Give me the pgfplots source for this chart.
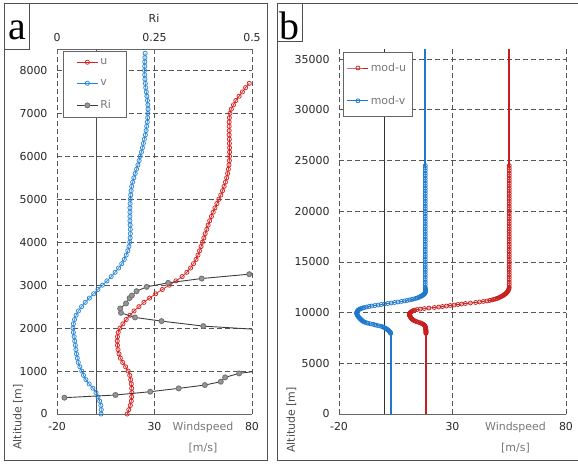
\documentclass[border=0pt]{standalone}
\usepackage{fontspec}
\setmainfont{DejaVu Sans}
\newfontfamily\labelfont{Liberation Serif}
\usepackage{pgfplots}
\pgfplotsset{compat=1.18}
\definecolor{ured}{RGB}{215,35,35}
\definecolor{vblue}{RGB}{45,135,215}
\definecolor{bred}{RGB}{200,30,30}
\definecolor{bblue}{RGB}{30,120,205}
\definecolor{gridc}{RGB}{85,85,85}
\definecolor{framec}{RGB}{80,80,80}
\definecolor{ridark}{RGB}{60,60,60}
\definecolor{rifill}{RGB}{150,150,150}
\definecolor{riedge}{RGB}{115,115,115}
\definecolor{txtc}{RGB}{40,40,40}
\definecolor{graytxt}{RGB}{120,120,120}
\pgfplotsset{
  base/.style={
    scale only axis, anchor=south west,
    ymin=0,
    axis x line*=bottom, axis y line*=left,
    y axis line style={draw=none},
    x axis line style={draw=gray!80!black, line width=0.8bp},
    major tick length=0pt,
    xmajorgrids, ymajorgrids,
    major grid style={gridc, line width=0.7bp, dash pattern=on 5bp off 3bp},
    xtick={-20,30,80}, xticklabels={-20,30,80},
    xmin=-20, xmax=80,
    ticklabel style={font=\fontsize{11}{13}\selectfont, text=txtc},
    /pgf/number format/assume math mode=true,
    /pgf/number format/1000 sep={},
    scaled y ticks=false,
    yticklabel style={/pgf/number format/fixed},
    xticklabel shift=5bp, yticklabel shift=6bp,
    legend cell align=left,
    clip=true,
  },
  omark/.style={mark=o, mark size=2.1bp, line width=0.75bp, mark options={fill=white, solid, line width=0.75bp}},
}
\begin{document}
\begin{tikzpicture}[font=\fontsize{11}{13}\selectfont]
\path[use as bounding box] (0bp,0bp) rectangle (578bp,464bp);
% frames
\draw[framec, line width=0.9bp] (4.5bp,4bp) rectangle (267.5bp,460.5bp);
\draw[framec, line width=0.9bp] (578bp,460.5bp) -- (277bp,460.5bp) -- (277bp,4bp) -- (578bp,4bp);
\draw[framec, line width=0.8bp, fill=white] (4.5bp,415bp) rectangle (29bp,460.5bp);
\draw[framec, line width=0.8bp, fill=white] (277bp,422.3bp) rectangle (302bp,460.5bp);
\node[anchor=base, inner sep=0pt, font=\labelfont\fontsize{40}{40}\selectfont] at (17.3bp,424bp) {a};
\node[anchor=base, inner sep=0pt, font=\labelfont\fontsize{40}{40}\selectfont] at (289.8bp,424bp) {b};

%%%%%%%%%%%%%%%% panel a
\begin{axis}[base, at={(57bp,50bp)}, width=195bp, height=365bp, ymax=8500,
  ytick={0,1000,...,8000},
  legend style={at={(0.031,0.9945)}, anchor=north west, draw=gray!80!black, fill=white,
    line width=0.8bp, font=\fontsize{11}{13}\selectfont\color{graytxt},
    inner xsep=13bp, inner ysep=5bp, row sep=9.5bp},
  legend image code/.code={\draw[mark repeat=2,mark phase=2] plot coordinates {(0bp,0bp)(10.5bp,0bp)(21bp,0bp)};},
]
\addplot[forget plot, draw=gray!60!black, line width=0.8bp] coordinates {(0,0) (0,8500)};
\addplot[ured, omark] coordinates {
(16.0,0) (16.8,100) (17.6,200) (18.1,300) (18.3,400) (18.4,500) (18.3,600) (18.1,700) (17.8,800) (17.3,900)
(16.5,1000) (15.2,1100) (13.7,1200) (12.5,1300) (11.8,1400) (11.3,1500) (11.0,1600) (10.9,1700) (11.0,1800) (11.4,1900)
(12.3,2000) (13.8,2100) (15.5,2200) (17.4,2300) (19.5,2400) (22.0,2500) (24.6,2600) (27.5,2700) (30.6,2800) (34.0,2900)
(37.6,3000) (41.0,3100) (44.2,3200) (46.6,3300) (48.5,3400) (50.0,3500) (51.3,3600) (52.3,3700) (53.1,3800) (53.9,3900)
(54.6,4000) (55.3,4100) (56.0,4200) (56.8,4300) (57.5,4400) (58.3,4500) (59.2,4600) (60.1,4700) (61.0,4800) (62.0,4900)
(63.0,5000) (64.0,5100) (64.9,5200) (65.7,5300) (66.4,5400) (67.0,5500) (67.5,5600) (67.9,5700) (68.2,5800) (68.4,5900)
(68.5,6000) (68.5,6100) (68.5,6200) (68.4,6300) (68.4,6400) (68.3,6500) (68.3,6600) (68.3,6700) (68.3,6800) (68.4,6900)
(68.7,7000) (69.4,7100) (70.5,7200) (71.7,7300) (73.4,7400) (75.1,7500) (76.7,7600) (78.6,7700)
};
\addlegendentry{u}
\addplot[vblue, omark] coordinates {
(2.6,0) (2.7,100) (2.5,200) (1.9,300) (1.0,400) (0.0,500) (-1.6,600) (-3.5,700) (-5.2,800) (-6.4,900)
(-7.3,1000) (-8.3,1100) (-9.1,1200) (-9.6,1300) (-10.0,1400) (-10.3,1500) (-10.6,1600) (-10.9,1700) (-11.2,1800) (-11.6,1900)
(-11.8,2000) (-11.6,2100) (-11.0,2200) (-10.2,2300) (-9.0,2400) (-7.4,2500) (-5.5,2600) (-3.4,2700) (-1.2,2800) (1.0,2900)
(3.3,3000) (5.6,3100) (7.8,3200) (9.8,3300) (11.6,3400) (13.2,3500) (14.5,3600) (15.5,3700) (16.3,3800) (16.9,3900)
(17.3,4000) (17.5,4100) (17.6,4200) (17.6,4300) (17.5,4400) (17.4,4500) (17.4,4600) (17.4,4700) (17.4,4800) (17.5,4900)
(17.6,5000) (17.8,5100) (18.0,5200) (18.3,5300) (18.8,5400) (19.4,5500) (20.1,5600) (20.8,5700) (21.5,5800) (22.1,5900)
(22.7,6000) (23.3,6100) (23.8,6200) (24.3,6300) (24.8,6400) (25.3,6500) (25.7,6600) (26.0,6700) (26.3,6800) (26.5,6900)
(26.6,7000) (26.7,7100) (26.6,7200) (26.4,7300) (26.1,7400) (25.8,7500) (25.5,7600) (25.3,7700) (25.1,7800) (25.0,7900)
(24.9,8000) (25.0,8100) (25.0,8200) (25.1,8300) (25.2,8400)
};
\addlegendentry{v}
\addlegendimage{draw=ridark, line width=0.9bp, mark=*, mark size=2.5bp, mark options={fill=rifill, draw=riedge, solid}}
\addlegendentry{Ri}
\end{axis}

% Ri overlay (top axis)
\begin{axis}[scale only axis, anchor=south west, at={(57bp,50bp)}, width=195bp, height=365bp,
  xmin=0, xmax=0.5, ymin=0, ymax=8500,
  axis x line*=top, axis y line=none, ytick=\empty,
  x axis line style={draw=gray!80!black, line width=0.8bp},
  xtick={0,0.25,0.5}, xticklabels={0,0.25,0.5},
  tick align=inside, major tick length=4bp, tick style={gray!80!black, line width=0.8bp},
  ticklabel style={font=\fontsize{11}{13}\selectfont, text=txtc},
  xticklabel shift=4bp,
  clip=true,
]
\addplot[draw=ridark, line width=0.9bp, mark=*, mark size=2.5bp, mark options={fill=rifill, draw=riedge, solid}] coordinates {
(0.019,380) (0.150,442) (0.239,519) (0.312,597) (0.379,674) (0.420,752) (0.431,853) (0.467,946)
(0.6,1100) (0.6,1920)
(0.375,2047) (0.268,2163) (0.200,2248) (0.164,2356) (0.162,2457) (0.177,2574) (0.186,2700) (0.192,2760)
(0.204,2860) (0.230,2961) (0.285,3054) (0.371,3155) (0.493,3256) (0.6,3330)
};
\end{axis}

\node[text=txtc] at (154bp,446bp) {Ri};
\node[text=graytxt] at (203bp,37bp) {Windspeed};
\node[text=graytxt] at (203bp,16bp) {[m/s]};
\node[text=gray!60!black, rotate=90] at (18bp,47bp) {Altitude [m]};

%%%%%%%%%%%%%%%% panel b
\begin{axis}[base, at={(339bp,50bp)}, width=227bp, height=365bp, ymax=36000,
  ytick={0,5000,...,35000},
  legend style={at={(0.016,0.9926)}, anchor=north west, draw=gray!80!black, fill=white,
    line width=0.8bp, font=\fontsize{11}{13}\selectfont\color{graytxt},
    inner xsep=4bp, inner ysep=9bp, row sep=19bp},
  legend image code/.code={\draw[mark repeat=2,mark phase=2] plot coordinates {(0bp,0bp)(10.5bp,0bp)(21bp,0bp)};},
]
\addplot[forget plot, draw=black!80, line width=0.8bp] coordinates {(0,0) (0,36000)};
\addplot[bred, omark, mark size=2bp] coordinates {
(18.3,7950) (18.3,8000) (18.3,8050) (18.3,8100) (18.3,8150) (18.3,8200) (18.3,8250) (18.3,8300) (18.2,8350) (18.2,8400)
(18.2,8450) (18.1,8500) (18.1,8550) (18.0,8600) (17.9,8650) (17.8,8700) (17.6,8750) (17.4,8800) (17.1,8850) (16.7,8900)
(16.2,8950) (15.7,9000) (15.0,9050) (14.3,9100) (13.7,9150) (13.2,9200) (12.8,9250) (12.5,9300) (12.2,9350) (12.0,9400)
(11.8,9450) (11.7,9500) (11.5,9550) (11.4,9600) (11.3,9650) (11.1,9700) (11.0,9750) (11.0,9800) (11.0,9850) (11.1,9900)
(11.2,9950) (11.4,10000) (11.7,10050) (12.0,10100) (12.3,10150) (12.7,10200) (13.4,10250) (14.4,10300) (15.8,10350) (17.6,10400)
(19.6,10450) (22.0,10500) (23.9,10550) (25.6,10600) (27.3,10650) (29.0,10700) (30.7,10750) (32.4,10800) (34.0,10850) (35.7,10900)
(37.9,10950) (40.2,11000) (41.9,11050) (43.6,11100) (45.2,11150) (46.4,11200) (47.4,11250) (48.2,11300) (48.9,11350) (49.6,11400)
(50.2,11450) (50.7,11500) (51.2,11550) (51.6,11600) (52.0,11650) (52.4,11700) (52.7,11750) (53.0,11800) (53.3,11850) (53.6,11900)
(53.8,11950) (54.0,12000) (54.4,12100) (54.6,12200) (54.8,12300) (54.9,12400) (55.0,12500)
(55.0,12750) (55.0,13000) (55.0,13250) (55.0,13500) (55.0,13750) (55.0,14000) (55.0,14250) (55.0,14500) (55.0,14750) (55.0,15000)
(55.0,15250) (55.0,15500) (55.0,15750) (55.0,16000) (55.0,16250) (55.0,16500) (55.0,16750) (55.0,17000) (55.0,17250) (55.0,17500)
(55.0,17750) (55.0,18000) (55.0,18250) (55.0,18500) (55.0,18750) (55.0,19000) (55.0,19250) (55.0,19500) (55.0,19750) (55.0,20000)
(55.0,20250) (55.0,20500) (55.0,20750) (55.0,21000) (55.0,21250) (55.0,21500) (55.0,21750) (55.0,22000) (55.0,22250) (55.0,22500)
(55.0,22750) (55.0,23000) (55.0,23250) (55.0,23500) (55.0,23750) (55.0,24000) (55.0,24250) (55.0,24500)
};
\addlegendentry{mod-u}
\addplot[bblue, omark, mark size=2bp] coordinates {
(2.8,7950) (2.7,8000) (2.6,8050) (2.4,8100) (2.2,8150) (2.0,8200) (1.8,8250) (1.5,8300) (1.2,8350) (0.9,8400)
(0.5,8450) (0.1,8500) (-0.3,8550) (-0.8,8600) (-1.5,8650) (-2.5,8700) (-3.5,8750) (-4.3,8800) (-5.1,8850) (-6.2,8900)
(-7.2,8950) (-8.0,9000) (-8.6,9050) (-9.1,9100) (-9.5,9150) (-9.8,9200) (-10.0,9250) (-10.2,9300) (-10.5,9350) (-10.7,9400)
(-10.9,9450) (-11.1,9500) (-11.3,9550) (-11.5,9600) (-11.7,9650) (-11.8,9700) (-11.9,9750) (-12.0,9800) (-12.1,9850) (-12.2,9900)
(-12.2,9950) (-12.2,10000) (-12.1,10050) (-12.0,10100) (-11.9,10150) (-11.7,10200) (-11.5,10250) (-11.2,10300) (-10.8,10350) (-10.3,10400)
(-9.7,10450) (-8.9,10500) (-7.9,10550) (-6.8,10600) (-5.6,10650) (-4.2,10700) (-2.8,10750) (-1.4,10800) (0.0,10850) (1.5,10900)
(3.0,10950) (4.5,11000) (6.0,11050) (7.5,11100) (8.8,11150) (10.0,11200) (11.1,11250) (12.1,11300) (13.0,11350) (13.8,11400)
(14.5,11450) (15.1,11500) (15.6,11550) (16.0,11600) (16.4,11650) (16.8,11700) (17.1,11750) (17.4,11800) (17.6,11850) (17.8,11900)
(17.9,11950) (18.0,12000) (18.1,12100) (18.1,12200) (18.1,12300) (18.0,12400) (18.0,12500)
(18.0,12750) (18.0,13000) (18.0,13250) (18.0,13500) (18.0,13750) (18.0,14000) (18.0,14250) (18.0,14500) (18.0,14750) (18.0,15000)
(18.0,15250) (18.0,15500) (18.0,15750) (18.0,16000) (18.0,16250) (18.0,16500) (18.0,16750) (18.0,17000) (18.0,17250) (18.0,17500)
(18.0,17750) (18.0,18000) (18.0,18250) (18.0,18500) (18.0,18750) (18.0,19000) (18.0,19250) (18.0,19500) (18.0,19750) (18.0,20000)
(18.0,20250) (18.0,20500) (18.0,20750) (18.0,21000) (18.0,21250) (18.0,21500) (18.0,21750) (18.0,22000) (18.0,22250) (18.0,22500)
(18.0,22750) (18.0,23000) (18.0,23250) (18.0,23500) (18.0,23750) (18.0,24000) (18.0,24250) (18.0,24500)
};
\addlegendentry{mod-v}
\addplot[forget plot, bred, line width=1.6bp] coordinates {(18.3,0) (18.3,7950)};
\addplot[forget plot, bred, line width=1.6bp] coordinates {(55.0,24500) (55.0,36000)};
\addplot[forget plot, bblue, line width=1.6bp] coordinates {(2.8,0) (2.8,7950)};
\addplot[forget plot, bblue, line width=1.6bp] coordinates {(18.0,24500) (18.0,36000)};
\end{axis}

\node[text=graytxt] at (515.5bp,37bp) {Windspeed};
\node[text=graytxt] at (515.5bp,16bp) {[m/s]};
\node[text=gray!60!black, rotate=90] at (291.5bp,44bp) {Altitude [m]};
\end{tikzpicture}
\end{document}
